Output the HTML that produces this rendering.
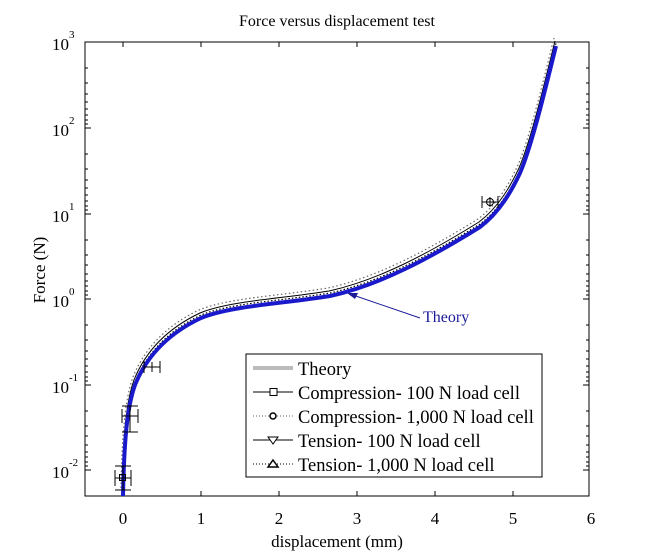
<!DOCTYPE html>
<html><head><style>body{margin:0;background:#fff}svg{display:block}text{font-family:"Liberation Serif",serif;fill:#000}</style></head><body>
<svg width="653" height="554" xmlns="http://www.w3.org/2000/svg">
<defs>
<path id="c" d="M123,496 C124,450 126,410 135,385 C145,360 165,335 201,318 C230,306 280,304 330,296 C380,285 430,258 480,227 C500,212 512,190 520,173 C532,145 545,90 556,46" fill="none"/>
</defs>
<text x="337" y="26" font-size="16" text-anchor="middle">Force versus displacement test</text>
<rect x="85" y="42" width="504" height="454" fill="none" stroke="#000" stroke-width="1"/>
<g stroke="#000" stroke-width="1">
<line x1="123" y1="496" x2="123" y2="491"/><line x1="201" y1="496" x2="201" y2="491"/><line x1="279" y1="496" x2="279" y2="491"/><line x1="357" y1="496" x2="357" y2="491"/><line x1="435" y1="496" x2="435" y2="491"/><line x1="513" y1="496" x2="513" y2="491"/>
<line x1="123" y1="42" x2="123" y2="47"/><line x1="201" y1="42" x2="201" y2="47"/><line x1="279" y1="42" x2="279" y2="47"/><line x1="357" y1="42" x2="357" y2="47"/><line x1="435" y1="42" x2="435" y2="47"/><line x1="513" y1="42" x2="513" y2="47"/>
<line x1="85" y1="128" x2="91" y2="128"/><line x1="85" y1="214" x2="91" y2="214"/><line x1="85" y1="299" x2="91" y2="299"/><line x1="85" y1="385" x2="91" y2="385"/><line x1="85" y1="470" x2="91" y2="470"/>
<line x1="589" y1="128" x2="583" y2="128"/><line x1="589" y1="214" x2="583" y2="214"/><line x1="589" y1="299" x2="583" y2="299"/><line x1="589" y1="385" x2="583" y2="385"/><line x1="589" y1="470" x2="583" y2="470"/>
</g>
<g stroke="#000" stroke-width="1">
<path d="M85,68h3M85,83h3M85,94h3M85,102h3M85,109h3M85,115h3M85,120h3M85,124h3M85,154h3M85,169h3M85,180h3M85,188h3M85,195h3M85,201h3M85,206h3M85,210h3M85,240h3M85,255h3M85,265h3M85,274h3M85,281h3M85,286h3M85,291h3M85,295h3M85,325h3M85,340h3M85,351h3M85,359h3M85,366h3M85,372h3M85,377h3M85,381h3M85,411h3M85,426h3M85,436h3M85,445h3M85,452h3M85,457h3M85,462h3M85,466h3"/>
<path transform="translate(674,0) scale(-1,1)" d="M85,68h3M85,83h3M85,94h3M85,102h3M85,109h3M85,115h3M85,120h3M85,124h3M85,154h3M85,169h3M85,180h3M85,188h3M85,195h3M85,201h3M85,206h3M85,210h3M85,240h3M85,255h3M85,265h3M85,274h3M85,281h3M85,286h3M85,291h3M85,295h3M85,325h3M85,340h3M85,351h3M85,359h3M85,366h3M85,372h3M85,377h3M85,381h3M85,411h3M85,426h3M85,436h3M85,445h3M85,452h3M85,457h3M85,462h3M85,466h3"/>
</g>
<g font-size="17" text-anchor="middle">
<text x="123" y="524">0</text><text x="201" y="524">1</text><text x="279" y="524">2</text><text x="357" y="524">3</text><text x="435" y="524">4</text><text x="513" y="524">5</text><text x="591" y="524">6</text>
<text x="337" y="547">displacement (mm)</text>
</g>
<g font-size="17">
<text x="52" y="50">10</text><text x="69" y="38" font-size="11">3</text>
<text x="52" y="136">10</text><text x="69" y="124" font-size="11">2</text>
<text x="52" y="222">10</text><text x="69" y="210" font-size="11">1</text>
<text x="52" y="307">10</text><text x="69" y="295" font-size="11">0</text>
<text x="52" y="393">10</text><text x="69" y="381" font-size="11">-1</text>
<text x="52" y="478">10</text><text x="69" y="466" font-size="11">-2</text>
</g>
<text transform="translate(45,270) rotate(-90)" font-size="17" text-anchor="middle">Force (N)</text>
<use href="#c" stroke="#000" stroke-width="1" transform="translate(-1,-5)"/>
<use href="#c" stroke="#666" stroke-width="1.2" stroke-dasharray="1.5,2.5" transform="translate(-2,-8)"/>
<use href="#c" stroke="#000" stroke-width="1.2" stroke-dasharray="1.5,2" transform="translate(0,-3)"/>
<use href="#c" stroke="#1a1acc" stroke-width="4"/>
<g stroke="#000" stroke-width="1" fill="none">
<path d="M115,478 H131 M123,466 V490 M115,470 V486 M131,470 V486 M115,466 H131 M115,490 H131"/><rect x="119.5" y="474.5" width="6" height="6"/>
<path d="M122,416 H138 M130,406 V432 M122,409 V423 M138,409 V423 M122,406 H138 M122,432 H138"/>
<path d="M144,367 H160 M152,362 V372 M144,361 V373 M160,361 V373"/>
<path d="M482,202 H498 M490,197 V207 M482,196 V208 M498,196 V208"/><circle cx="490" cy="202" r="3.5"/>
</g>
<line x1="420" y1="318" x2="350" y2="294" stroke="#1a1a99" stroke-width="1"/>
<path d="M347,293 L358,293 L355,299 Z" fill="#1a1a99"/>
<text x="423" y="322" font-size="16" style="fill:#1a1a99">Theory</text>
<rect x="246" y="354" width="296" height="123" fill="#fff" stroke="#000"/>
<line x1="253" y1="368" x2="293" y2="368" stroke="#bbb" stroke-width="4"/>
<line x1="253" y1="392" x2="293" y2="392" stroke="#000"/><rect x="270" y="388.5" width="7" height="7" fill="#fff" stroke="#000"/>
<line x1="253" y1="416" x2="293" y2="416" stroke="#666" stroke-dasharray="1,2"/><circle cx="273" cy="416" r="3" fill="#fff" stroke="#000" stroke-width="1.5"/>
<line x1="253" y1="440" x2="293" y2="440" stroke="#000"/><path d="M268,437 L278,437 L273,444 Z" fill="#fff" stroke="#000"/>
<line x1="253" y1="464" x2="293" y2="464" stroke="#000" stroke-dasharray="1,2"/><path d="M268,467 L278,467 L273,460 Z" fill="#fff" stroke="#000" stroke-width="1.5"/>
<g font-size="18.5"><text x="298" y="375">Theory</text><text x="298" y="399">Compression- 100 N load cell</text><text x="298" y="423">Compression- 1,000 N load cell</text><text x="298" y="447">Tension- 100 N load cell</text><text x="298" y="471">Tension- 1,000 N load cell</text></g>
</svg>
</body></html>
